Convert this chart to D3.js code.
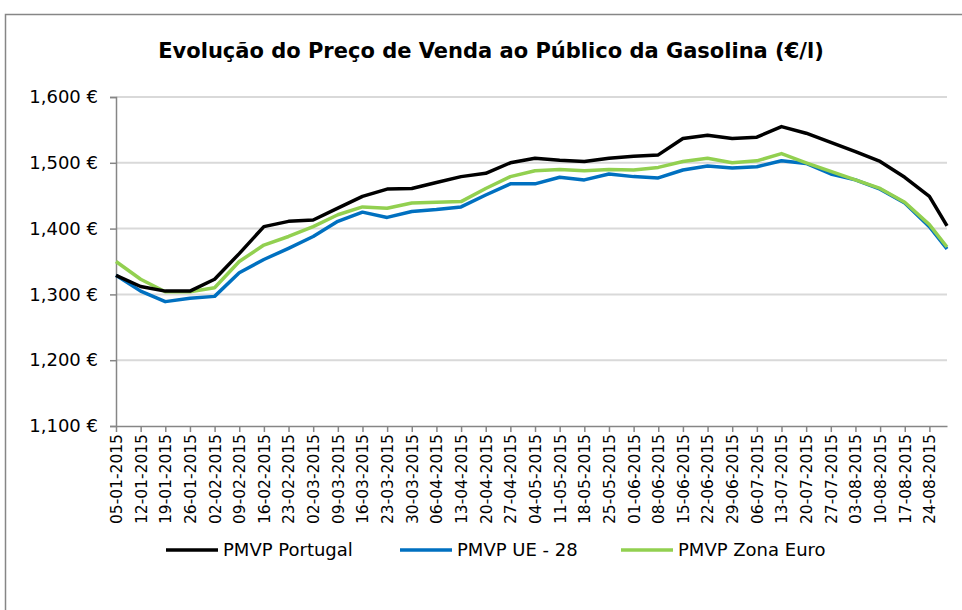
<!DOCTYPE html>
<html>
<head>
<meta charset="utf-8">
<script src="https://cdn.jsdelivr.net/npm/d3@7"></script>
<style>
  body { margin: 0; background: #fff; }
  svg { display: block; font-family: 'DejaVu Sans', sans-serif; }
  .tick text { fill: #000; }
</style>
</head>
<body>
<svg width="962" height="610"></svg>
<script>
// weekly dates (last value is the end-of-August reading)
const dates = ['05-01-2015','12-01-2015','19-01-2015','26-01-2015','02-02-2015','09-02-2015','16-02-2015',
  '23-02-2015','02-03-2015','09-03-2015','16-03-2015','23-03-2015','30-03-2015','06-04-2015','13-04-2015',
  '20-04-2015','27-04-2015','04-05-2015','11-05-2015','18-05-2015','25-05-2015','01-06-2015','08-06-2015',
  '15-06-2015','22-06-2015','29-06-2015','06-07-2015','13-07-2015','20-07-2015','27-07-2015','03-08-2015',
  '10-08-2015','17-08-2015','24-08-2015','29-08-2015'];
const tickLabels = dates.slice(0, 34);

const portugal = [1.329,1.312,1.305,1.305,1.323,1.362,1.403,1.411,1.413,1.431,1.449,1.460,1.461,1.470,1.479,
  1.484,1.500,1.507,1.504,1.502,1.507,1.510,1.512,1.537,1.542,1.537,1.539,1.555,1.545,1.531,1.517,1.502,1.478,1.449,1.404];
const ue28 = [1.329,1.305,1.289,1.294,1.297,1.333,1.353,1.370,1.388,1.411,1.425,1.417,1.426,1.429,1.433,
  1.451,1.468,1.468,1.478,1.474,1.483,1.479,1.477,1.489,1.495,1.492,1.494,1.503,1.499,1.483,1.474,1.460,1.439,1.403,1.369];
const zonaEuro = [1.350,1.323,1.304,1.304,1.310,1.350,1.375,1.388,1.403,1.421,1.433,1.431,1.439,1.440,1.441,
  1.461,1.479,1.488,1.490,1.488,1.490,1.489,1.493,1.502,1.507,1.500,1.503,1.514,1.500,1.487,1.474,1.461,1.440,1.406,1.372];

const seriesNames = ['PMVP Portugal', 'PMVP UE - 28', 'PMVP Zona Euro'];
const seriesColors = ['#000000', '#0070C0', '#92D050'];
const yTicks = [1.1, 1.2, 1.3, 1.4, 1.5, 1.6];

const svg = d3.select('svg');
const parseDate = d3.timeParse('%d-%m-%Y');
const pt = d3.formatLocale({decimal: ',', thousands: '.', grouping: [3], currency: ['', '€']});
const priceFormat = v => pt.format('.3f')(v) + ' €';

const margin = {left: 116, right: 15, top: 97, bottom: 184};
const width = 962 - margin.left - margin.right;
const height = 610 - margin.top - margin.bottom;

// chart frame
svg.append('rect')
  .attr('x', 5.5).attr('y', 14.5)
  .attr('width', 1000).attr('height', 1000)
  .attr('fill', 'none').attr('stroke', '#868686').attr('stroke-width', 1.5);

svg.append('text')
  .attr('x', 491).attr('y', 58)
  .attr('text-anchor', 'middle')
  .attr('font-size', 21).attr('font-weight', 'bold')
  .text('Evolução do Preço de Venda ao Público da Gasolina (€/l)');

const x = d3.scaleTime()
  .domain([parseDate(dates[0]), parseDate(dates[dates.length - 1])])
  .range([0, width]);
const y = d3.scaleLinear()
  .domain([1.1, 1.6])
  .range([height, 0]);

const g = svg.append('g')
  .attr('transform', `translate(${margin.left},${margin.top})`);

// gridlines
g.append('g')
  .selectAll('line').data(yTicks.slice(1))
  .enter().append('line')
  .attr('x1', 0).attr('x2', width)
  .attr('y1', d => y(d)).attr('y2', d => y(d))
  .attr('stroke', '#d9d9d9').attr('stroke-width', 2);

const yAxis = g.append('g')
  .call(d3.axisLeft(y).tickValues(yTicks).tickFormat(priceFormat).tickSize(6).tickPadding(12));
yAxis.select('.domain').attr('stroke', '#868686').attr('stroke-width', 1.5);
yAxis.selectAll('.tick line').attr('stroke', '#868686').attr('stroke-width', 1.5);
yAxis.selectAll('.tick text').attr('font-size', 18).attr('font-family', 'DejaVu Sans');

const xAxis = g.append('g')
  .attr('transform', `translate(0,${height})`)
  .call(d3.axisBottom(x)
    .tickValues(tickLabels.map(parseDate))
    .tickFormat(d3.timeFormat('%d-%m-%Y'))
    .tickSize(6).tickSizeOuter(0));
xAxis.select('.domain').attr('stroke', '#868686').attr('stroke-width', 1.5);
xAxis.selectAll('.tick line').attr('stroke', '#868686').attr('stroke-width', 1.5);
xAxis.selectAll('.tick text')
  .attr('font-size', 15.5).attr('font-family', 'DejaVu Sans')
  .attr('transform', 'rotate(-90)')
  .attr('text-anchor', 'end')
  .attr('x', -8).attr('y', 0).attr('dy', '0.35em');

// lines
const line = d3.line()
  .x((d, i) => x(parseDate(dates[i])))
  .y(d => y(d));

const drawOrder = [1, 2, 0];
const allSeries = [portugal, ue28, zonaEuro];
g.selectAll('path.series')
  .data(drawOrder.map(k => ({values: allSeries[k], color: seriesColors[k]})))
  .enter().append('path')
  .attr('class', 'series')
  .attr('d', d => line(d.values))
  .attr('fill', 'none')
  .attr('stroke', d => d.color)
  .attr('stroke-width', 3.5)
  .attr('stroke-linejoin', 'round');

// legend
const legendX = [166, 400, 621];
const legend = svg.append('g').attr('transform', 'translate(0,550)');
const items = legend.selectAll('g').data(seriesNames)
  .enter().append('g')
  .attr('transform', (d, i) => `translate(${legendX[i]},0)`);
items.append('line')
  .attr('x1', 0).attr('x2', 52)
  .attr('stroke', (d, i) => seriesColors[i])
  .attr('stroke-width', 3.5);
items.append('text')
  .attr('x', 57).attr('dy', '0.35em')
  .attr('font-size', 18)
  .text(d => d);
</script>
</body>
</html>
